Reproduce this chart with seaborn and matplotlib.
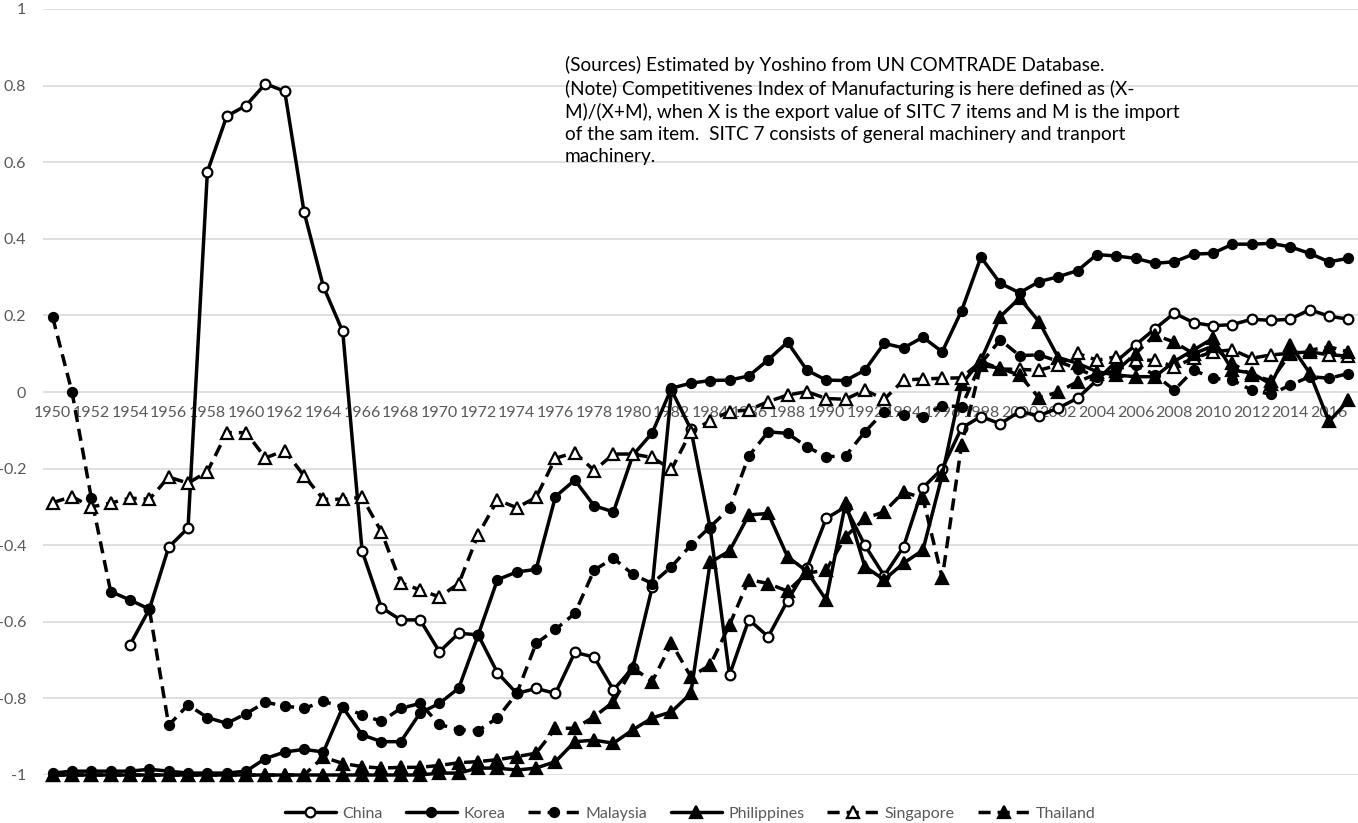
import numpy as np
import pandas as pd
import matplotlib
matplotlib.use("Agg")
import matplotlib.pyplot as plt
import seaborn as sns

nan = np.nan
years = list(range(1950, 2018))
xtick_years = list(range(1950, 2017, 2))
ytick_values = [-1, -0.8, -0.6, -0.4, -0.2, 0, 0.2, 0.4, 0.6, 0.8, 1]
ytick_labels = ["-1", "-0.8", "-0.6", "-0.4", "-0.2", "0", "0.2", "0.4", "0.6", "0.8", "1"]

china = [nan, nan, nan, nan, -0.66, -0.567, -0.405, -0.355, 0.575, 0.72,
         0.748, 0.805, 0.785, 0.47, 0.275, 0.158, -0.415, -0.563, -0.595, -0.595,
         -0.678, -0.63, -0.634, -0.733, -0.787, -0.774, -0.787, -0.68, -0.692, -0.778,
         -0.72, -0.51, 0.005, -0.097, -0.355, -0.739, -0.594, -0.639, -0.545, -0.46,
         -0.33, -0.30, -0.40, -0.48, -0.404, -0.25, -0.20, -0.094, -0.064, -0.083,
         -0.051, -0.062, -0.042, -0.016, 0.031, 0.08, 0.123, 0.165, 0.206, 0.181,
         0.173, 0.176, 0.19, 0.187, 0.19, 0.215, 0.198, 0.19]
korea = [-0.995, -0.99, -0.99, -0.99, -0.99, -0.985, -0.99, -0.995, -0.995, -0.995,
         -0.99, -0.957, -0.94, -0.933, -0.94, -0.823, -0.895, -0.913, -0.913, -0.838,
         -0.813, -0.773, -0.635, -0.49, -0.47, -0.463, -0.273, -0.23, -0.297, -0.313,
         -0.165, -0.107, 0.01, 0.023, 0.03, 0.031, 0.042, 0.084, 0.13, 0.057,
         0.031, 0.03, 0.057, 0.127, 0.115, 0.143, 0.105, 0.212, 0.352, 0.284,
         0.259, 0.288, 0.301, 0.317, 0.359, 0.355, 0.349, 0.336, 0.34, 0.36,
         0.362, 0.386, 0.386, 0.388, 0.379, 0.362, 0.34, 0.349]
malaysia = [0.195, 0.0, -0.277, -0.521, -0.543, -0.567, -0.87, -0.817, -0.85, -0.865,
            -0.84, -0.81, -0.82, -0.826, -0.808, -0.822, -0.843, -0.86, -0.826, -0.813,
            -0.868, -0.882, -0.884, -0.851, -0.787, -0.656, -0.62, -0.578, -0.465, -0.434,
            -0.476, -0.50, -0.456, -0.40, -0.352, -0.304, -0.167, -0.104, -0.108, -0.143,
            -0.169, -0.167, -0.104, -0.051, -0.06, -0.064, -0.036, -0.038, 0.075, 0.136,
            0.095, 0.097, 0.08, 0.06, 0.04, 0.06, 0.07, 0.045, 0.005, 0.057,
            0.036, 0.031, 0.005, -0.006, 0.018, 0.04, 0.036, 0.048]
philippines = [-1.0, -1.0, -1.0, -1.0, -1.0, -1.0, -1.0, -1.0, -1.0, -1.0,
               -1.0, -1.0, -1.0, -1.0, -1.0, -1.0, -1.0, -1.0, -1.0, -1.0,
               -0.995, -0.995, -0.982, -0.982, -0.987, -0.982, -0.965, -0.913, -0.909, -0.917,
               -0.882, -0.851, -0.835, -0.787, -0.445, -0.415, -0.321, -0.317, -0.43, -0.468,
               -0.543, -0.29, -0.456, -0.49, -0.447, -0.413, -0.217, 0.02, 0.083, 0.197,
               0.245, 0.184, 0.09, 0.075, 0.053, 0.044, 0.04, 0.04, 0.08, 0.11,
               0.14, 0.057, 0.05, 0.02, 0.123, 0.05, -0.077, -0.022]
singapore = [-0.289, -0.273, -0.30, -0.29, -0.277, -0.28, -0.222, -0.238, -0.208, -0.106,
             -0.106, -0.172, -0.153, -0.219, -0.28, -0.28, -0.275, -0.365, -0.498, -0.517,
             -0.535, -0.50, -0.373, -0.282, -0.302, -0.275, -0.173, -0.158, -0.205, -0.162,
             -0.162, -0.171, -0.202, -0.104, -0.075, -0.051, -0.047, -0.025, -0.008, 0.001,
             -0.017, -0.019, 0.005, -0.019, 0.031, 0.034, 0.036, 0.037, 0.08, 0.06,
             0.059, 0.057, 0.07, 0.101, 0.083, 0.092, 0.083, 0.083, 0.066, 0.088,
             0.105, 0.11, 0.088, 0.097, 0.101, 0.105, 0.097, 0.094]
thailand = [-1.0, -1.0, -1.0, -1.0, -1.0, -1.0, -1.0, -1.0, -1.0, -1.0,
            -1.0, -1.0, -1.0, -1.0, -0.953, -0.97, -0.978, -0.982, -0.98, -0.98,
            -0.975, -0.968, -0.965, -0.96, -0.952, -0.943, -0.878, -0.878, -0.848, -0.809,
            -0.72, -0.756, -0.656, -0.743, -0.713, -0.608, -0.49, -0.50, -0.52, -0.473,
            -0.465, -0.378, -0.33, -0.313, -0.261, -0.277, -0.486, -0.138, 0.07, 0.062,
            0.044, -0.015, 0.0, 0.027, 0.047, 0.055, 0.10, 0.149, 0.13, 0.10,
            0.12, 0.075, 0.044, 0.03, 0.10, 0.109, 0.118, 0.105]

series_names = ["China", "Korea", "Malaysia", "Philippines", "Singapore", "Thailand"]
series_values = [china, korea, malaysia, philippines, singapore, thailand]

note_text = ("(Sources) Estimated by Yoshino from UN COMTRADE Database.\n"
             "(Note) Competitivenes Index of Manufacturing is here defined as (X-\n"
             "M)/(X+M), when X is the export value of SITC 7 items and M is the import\n"
             "of the sam item.  SITC 7 consists of general machinery and tranport\n"
             "machinery.")

sns.set_theme(style="white")
plt.rcParams['font.family'] = ['Lato', 'DejaVu Sans']

DASH = (0, (3.5, 2.0))
styles = {
    "China":       dict(marker="o", ls="-",  mfc="white", ms=7.0),
    "Korea":       dict(marker="o", ls="-",  mfc="black", ms=6.5),
    "Malaysia":    dict(marker="o", ls=DASH, mfc="black", ms=6.5),
    "Philippines": dict(marker="^", ls="-",  mfc="black", ms=8.3),
    "Singapore":   dict(marker="^", ls=DASH, mfc="white", ms=8.3),
    "Thailand":    dict(marker="^", ls=DASH, mfc="black", ms=8.3),
}

W, H = 1358, 823
fig = plt.figure(figsize=(W / 100, H / 100), dpi=100)
ax = fig.add_axes([43 / W, 48 / H, 1315 / W, 766 / H])

for name, vals in zip(series_names, series_values):
    df = pd.DataFrame({"year": years, "value": vals}).dropna()
    st = styles[name]
    sns.lineplot(data=df, x="year", y="value", ax=ax, color="black",
                 linewidth=2.5, linestyle=st["ls"], marker=st["marker"],
                 markersize=st["ms"], markerfacecolor=st["mfc"],
                 markeredgecolor="black", markeredgewidth=1.6,
                 label=name, clip_on=False, sort=False)

ax.set_xlim(1949.5, 2017.5)
ax.set_ylim(-1, 1)
ax.set_xlabel("")
ax.set_ylabel("")

ax.set_yticks(ytick_values)
ax.set_yticklabels(ytick_labels)
ax.set_xticks(xtick_years)
ax.set_xticklabels([str(y) for y in xtick_years])

for s in ["top", "right", "left"]:
    ax.spines[s].set_visible(False)
ax.spines["bottom"].set_position(("data", 0))
ax.spines["bottom"].set_visible(False)

ax.tick_params(axis="x", length=0, pad=10, labelsize=11.5, colors="#595959")
ax.tick_params(axis="y", length=0, pad=12, labelsize=11.5, colors="#595959")
ax.yaxis.grid(True, color="#D9D9D9", linewidth=1.2)
ax.xaxis.grid(False)
ax.set_axisbelow(True)

handles, labels = ax.get_legend_handles_labels()
ax.get_legend().remove()
fig.legend(handles, labels, loc="lower center", bbox_to_anchor=(0.508, -0.0145),
           ncol=6, frameon=False, fontsize=11.5, handlelength=3.2,
           handletextpad=0.4, columnspacing=1.45, borderpad=0.4,
           labelcolor="#595959")

fig.text(565 / W, 1 - 56 / H, note_text, ha="left", va="top", fontsize=13.7,
         color="black", linespacing=1.36)

fig.savefig("out.png", dpi=100)
